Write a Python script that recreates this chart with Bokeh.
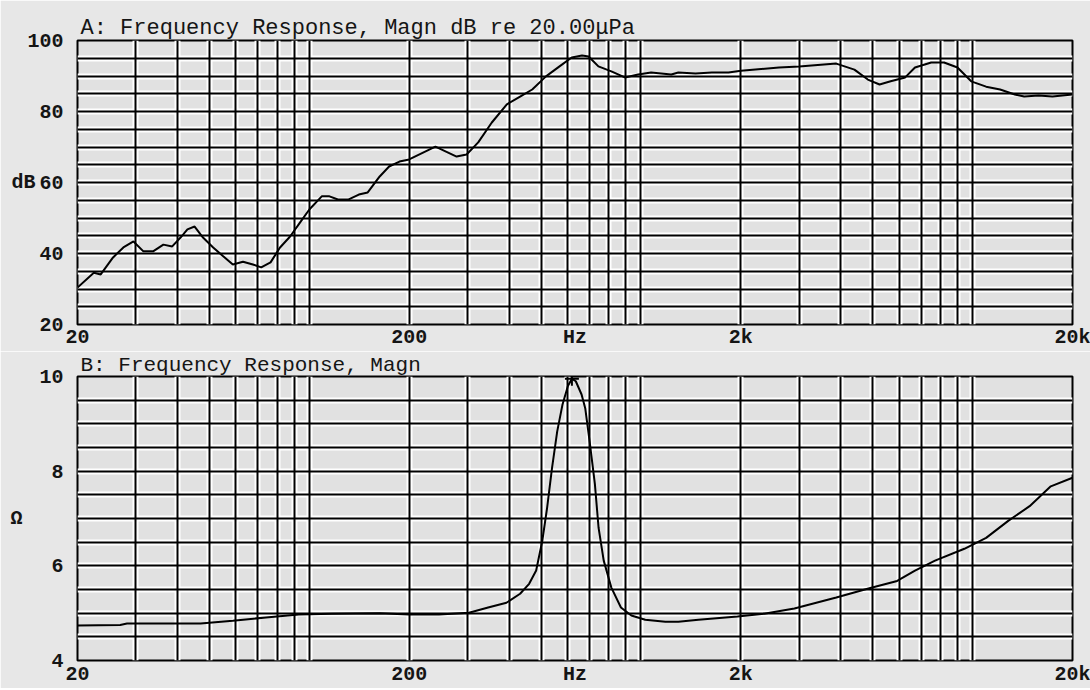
import numpy as np
from bokeh.plotting import figure
from bokeh.layouts import column
from bokeh.models import FixedTicker, Grid, Range1d
from bokeh.embed import file_html
from bokeh.resources import INLINE

# ---------------- data ----------------
freq_a = [20, 22.4, 23.5, 25.6, 27.5, 29.5, 31.6, 33.8, 36.3, 38.6, 40.9, 42.9, 45.1,
          47.8, 51.3, 55, 58.8, 63.1, 67.6, 71.6, 76.4, 81.6, 87.5, 93.7, 100, 109,
          115, 122, 131, 141, 150, 163, 174, 187, 200, 240, 278, 298, 323, 355, 394,
          432, 470, 517, 568, 618, 664, 695, 744, 814, 894, 980, 1073, 1234, 1296,
          1460, 1636, 1836, 2002, 2606, 3000, 3880, 4400, 4830, 5240, 5660, 6260,
          6700, 7500, 8200, 9000, 9900, 10980, 12100, 13400, 14300, 15800, 17400, 20000]
mag_db = [30.4, 34.6, 34.1, 38.9, 41.7, 43.4, 40.6, 40.6, 42.5, 42.0, 44.5, 46.8, 47.6,
          44.5, 41.7, 39.2, 36.9, 37.7, 36.9, 36.1, 37.5, 41.7, 44.8, 48.7, 52.4, 56.1,
          56.1, 55.2, 55.2, 56.6, 57.2, 61.7, 64.5, 65.9, 66.5, 70.1, 67.3, 67.9, 71.3,
          76.9, 82.0, 84.2, 86.2, 89.9, 92.7, 95.2, 95.8, 95.5, 92.7, 91.3, 89.6, 90.4,
          91.0, 90.4, 91.0, 90.7, 91.0, 91.0, 91.5, 92.4, 92.7, 93.5, 91.8, 89.0, 87.6,
          88.5, 89.6, 92.4, 93.8, 93.8, 92.4, 88.5, 87.0, 86.2, 84.8, 84.2, 84.5, 84.2, 84.8]

freq_b = [20, 26.9, 28.2, 47, 58.8, 74, 93, 117, 163, 200, 246, 303, 346, 393, 432,
          460, 483, 504, 521, 539, 559, 580, 602, 619, 636, 662, 679, 700, 726, 745,
          772, 814, 870, 935, 1030, 1184, 1296, 1490, 1954, 2350, 2900, 3880, 4850,
          5920, 6700, 7700, 9440, 10980, 12800, 14850, 17200, 20000]
imp_ohm = [4.74, 4.75, 4.78, 4.78, 4.84, 4.91, 4.97, 4.99, 5.0, 4.97, 4.97, 5.01, 5.12,
           5.22, 5.41, 5.62, 5.90, 6.53, 7.22, 8.06, 8.84, 9.41, 9.80, 9.95, 9.90, 9.62,
           9.33, 8.63, 7.73, 6.80, 6.11, 5.54, 5.12, 4.95, 4.86, 4.82, 4.82, 4.86, 4.93,
           4.99, 5.10, 5.33, 5.52, 5.68, 5.90, 6.11, 6.36, 6.59, 6.95, 7.26, 7.68, 7.86]

x_tick_vals = [20, 200, 632, 2000, 20000]
x_tick_text = ["20", "200", "Hz", "2k", "20k"]
db_ticks = [20, 40, 60, 80, 100]
ohm_ticks = [4, 6, 8, 10]

title_a = "A: Frequency Response, Magn dB re 20.00\u03bcPa"
title_b = "B: Frequency Response, Magn"

FONT = "Liberation Mono"
INK = "#151515"

grid_x = [m * 10 ** k for k in range(1, 5) for m in range(1, 10) if 20 <= m * 10 ** k <= 20000]


def make_panel(title, xs, ys, y_lo, y_hi, y_step, yticks, ylabel, ylabel_standoff,
               frame_h, top_b, lab_gap, title_size):
    p = figure(x_axis_type="log", x_range=Range1d(20, 20000), y_range=Range1d(y_lo, y_hi),
               frame_width=995, frame_height=frame_h,
               min_border_left=77, min_border_right=18,
               min_border_top=top_b, min_border_bottom=5,
               output_backend="svg", toolbar_location=None, title=title)
    p.background_fill_color = "#e1e1e1"
    p.border_fill_color = "#e7e7e7"
    p.outline_line_color = "black"
    p.outline_line_width = 2

    p.title.text_font = FONT
    p.title.text_font_size = title_size
    p.title.text_font_style = "normal"
    p.title.text_color = INK
    p.title.text_line_height = 1.0
    p.title.align = "left"
    p.title.offset = 3
    p.title.standoff = 0

    grid_y = list(np.arange(y_lo, y_hi + 1e-9, y_step))
    # white halo under the black grid lines
    p.xgrid.ticker = FixedTicker(ticks=grid_x)
    p.ygrid.ticker = FixedTicker(ticks=grid_y)
    for g in (p.xgrid, p.ygrid):
        g.grid_line_color = "white"
        g.grid_line_width = 6
    p.add_layout(Grid(dimension=0, ticker=FixedTicker(ticks=grid_x),
                      grid_line_color="black", grid_line_width=2))
    p.add_layout(Grid(dimension=1, ticker=FixedTicker(ticks=grid_y),
                      grid_line_color="black", grid_line_width=2))

    for ax in (p.xaxis, p.yaxis):
        ax.axis_line_color = None
        ax.major_tick_line_color = None
        ax.minor_tick_line_color = None
        ax.major_tick_out = 0
        ax.major_tick_in = 0
        ax.major_label_text_font = FONT
        ax.major_label_text_font_size = "20px"
        ax.major_label_text_font_style = "bold"
        ax.major_label_text_color = INK
        ax.major_label_text_line_height = 1.0

    # y axis
    p.yaxis.ticker = FixedTicker(ticks=yticks)
    p.yaxis.major_label_standoff = 14
    p.yaxis.axis_label = ylabel
    p.yaxis.axis_label_orientation = "horizontal"
    p.yaxis.axis_label_standoff = ylabel_standoff
    p.yaxis.axis_label_text_font = FONT
    p.yaxis.axis_label_text_font_size = "20px"
    p.yaxis.axis_label_text_font_style = "bold"
    p.yaxis.axis_label_text_color = INK

    # x axis
    p.xaxis.ticker = FixedTicker(ticks=x_tick_vals)
    p.xaxis.major_label_overrides = {v: t for v, t in zip(x_tick_vals, x_tick_text)}
    p.xaxis.major_label_standoff = lab_gap

    p.line(xs, ys, line_color="black", line_width=2)
    return p


p1 = make_panel(title_a, freq_a, mag_db, 20, 100, 5, db_ticks, "dB", -11,
                284, 40, 1, "22px")
p2 = make_panel(title_b, freq_b, imp_ohm, 4, 10, 0.5, ohm_ticks, "\u03a9", 14,
                284, 20, 2, "21px")

ipk = int(np.argmax(imp_ohm))
p2.scatter([freq_b[ipk]], [imp_ohm[ipk]], marker="cross", size=14,
           line_color="black", line_width=2)

layout = column(p1, p2, spacing=0)
open("out.html", "w").write(file_html(layout, INLINE))
